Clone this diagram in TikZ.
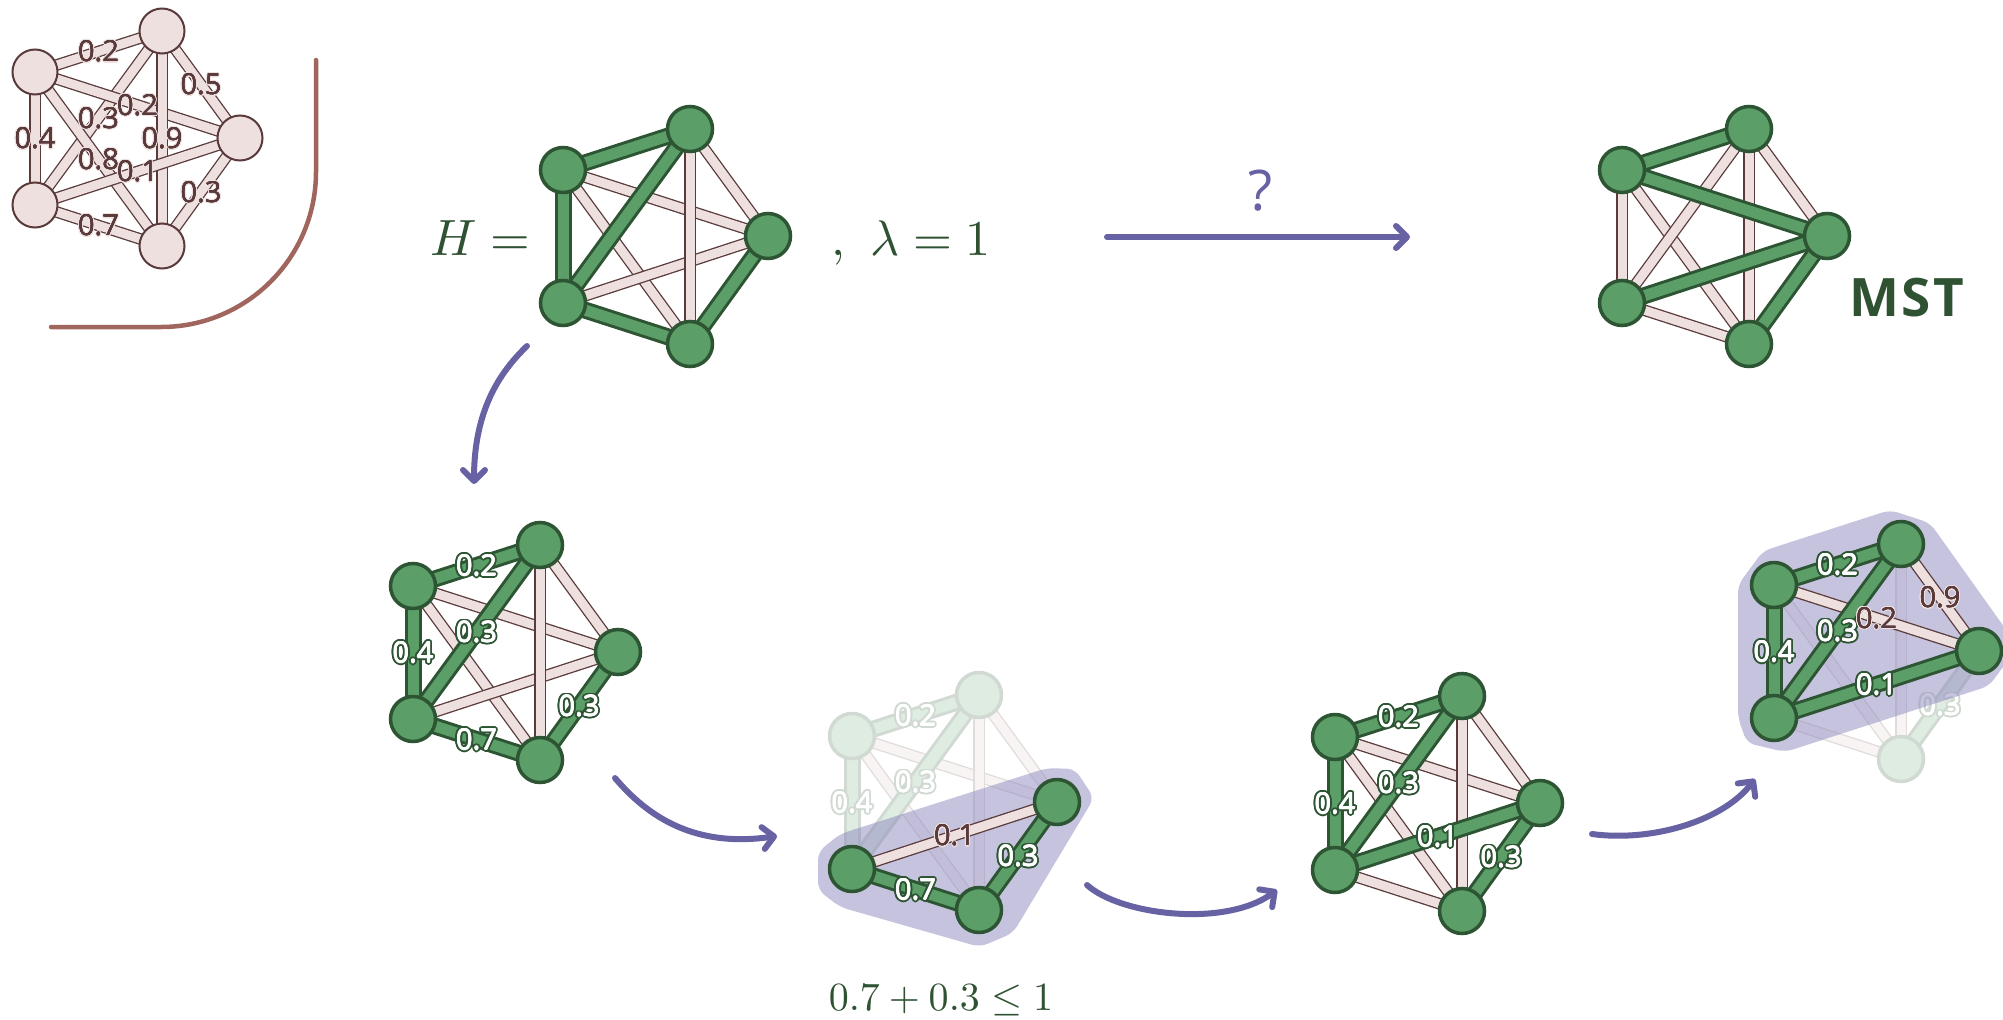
\documentclass[tikz,border=0pt]{standalone}
\usepackage{fontspec}
\setsansfont{Open Sans}
\usetikzlibrary{arrows.meta,calc}

\definecolor{ggreen}{HTML}{5C9E68}
\definecolor{gdark}{HTML}{2D5533}
\definecolor{epink}{HTML}{EDE0DF}
\definecolor{ebrown}{HTML}{5A3A3A}
\definecolor{apurple}{HTML}{6762A3}
\definecolor{hullc}{HTML}{8C88BE}
\definecolor{cornerc}{HTML}{A0665E}
\definecolor{textg}{HTML}{2F5233}
\colorlet{fgreen}{ggreen!20!white}
\colorlet{fgdark}{gdark!22!white}
\colorlet{fpink}{epink!35!white}
\colorlet{fbrown}{ebrown!18!white}

\pgfdeclarelayer{canvas}
\pgfdeclarelayer{fadeedges}
\pgfdeclarelayer{fadenodes}
\pgfdeclarelayer{fadelabels}
\pgfdeclarelayer{hull}
\pgfdeclarelayer{edges}
\pgfdeclarelayer{labels}
\pgfsetlayers{canvas,fadeedges,fadenodes,fadelabels,hull,edges,main,labels}

\tikzset{
  pnode/.style={circle, inner sep=0pt, minimum size=45pt, fill=epink, draw=ebrown, line width=2pt},
  gnode/.style={circle, inner sep=0pt, minimum size=45pt, fill=ggreen, draw=gdark, line width=3.5pt},
  fnode/.style={circle, inner sep=0pt, minimum size=45pt, fill=fgreen, draw=fgdark, line width=3.5pt},
  pedge/.style={draw=ebrown, line width=1.3pt, double=epink, double distance=9pt},
  gedge/.style={draw=gdark, line width=3pt, double=ggreen, double distance=11pt},
  fpedge/.style={draw=fbrown, line width=1.3pt, double=fpink, double distance=9pt},
  fgedge/.style={draw=fgdark, line width=3pt, double=fgreen, double distance=11pt},
  lab/.style={font=\sffamily\fontsize{29}{29}\selectfont, inner sep=0pt},
  flow/.style={draw=apurple, line width=6pt, line cap=round,
    -{Straight Barb[length=11pt,width=22pt,round]}},
  hullshape/.style={fill=hullc, fill opacity=0.5, rounded corners=8pt},
  eqtext/.style={text=textg, inner sep=0pt},
}

% text with a coloured rim: #1 rim colour, #2 text colour,
% #3 rim radius (pt), #4 emboldening radius (pt), #5 text
\newcommand\rimtext[5]{%
  \begingroup
  \sbox0{#5}%
  \makebox[\wd0][l]{%
    \foreach \a in {0,22.5,...,337.5}{%
      \pgfmathsetmacro\rx{#3*cos(\a)}\pgfmathsetmacro\ry{#3*sin(\a)}%
      \makebox[0pt][l]{\hspace*{\rx pt}\raisebox{\ry pt}[0pt][0pt]{\color{#1}#5}}}%
    \foreach \a in {0,90,180,270}{%
      \pgfmathsetmacro\rx{#4*cos(\a)}\pgfmathsetmacro\ry{#4*sin(\a)}%
      \makebox[0pt][l]{\hspace*{\rx pt}\raisebox{\ry pt}[0pt][0pt]{\color{#2}#5}}}%
    \makebox[0pt][l]{\color{#2}#5}%
  }%
  \endgroup}

% label on a highlighted edge: #1,#2 end nodes, #3 text, #4 rim colour
\newcommand\elab[4]{%
  \node[lab] (#1-#2) at ($(#1)!.5!(#2)$) {\rimtext{#4}{white}{2.3}{0.4}{#3}};
}
% label on a plain edge: brown figures with a thin light halo
\newcommand\plab[3]{%
  \node[lab] (#1-#2) at ($(#1)!.5!(#2)$) {\rimtext{epink}{ebrown}{1.2}{0}{#3}};
}

% five vertices of a graph, placed relative to the current shift
\newcommand\vertices[6]{%
  \node[#2] (#1A) at (0,0) {};
  \node[#3] (#1B) at (127,-41) {};
  \node[#4] (#1C) at (205,66) {};
  \node[#5] (#1D) at (0,133) {};
  \node[#6] (#1E) at (127,174) {};
}

\begin{document}
\begin{tikzpicture}[x=1pt,y=-1pt]
\useasboundingbox (0,0) rectangle (2003,1020);
\begin{pgfonlayer}{canvas}
  \fill[white] (0,0) rectangle (2003,1020);
\end{pgfonlayer}

% ---------- weighted input graph ----------
\begin{scope}[shift={(35,72)}]
  \vertices{p}{pnode}{pnode}{pnode}{pnode}{pnode}
\end{scope}
\begin{pgfonlayer}{edges}
  \foreach \u/\v in {pA/pB,pB/pC,pA/pD,pD/pB,pA/pC,pB/pE,pA/pE,pD/pC,pC/pE,pD/pE}
    \draw[pedge] (\u.center) -- (\v.center);
\end{pgfonlayer}
\begin{pgfonlayer}{labels}
  \plab{pA}{pB}{0.2}
  \plab{pB}{pC}{0.5}
  \plab{pA}{pD}{0.4}
  \plab{pD}{pB}{0.3}
  \plab{pA}{pC}{0.2}
  \plab{pB}{pE}{0.9}
  \plab{pA}{pE}{0.8}
  \plab{pD}{pC}{0.1}
  \plab{pC}{pE}{0.3}
  \plab{pD}{pE}{0.7}
\end{pgfonlayer}
\coordinate (k1) at (316,60);
\coordinate (k2) at (316,327);
\coordinate (k3) at (51,327);
\draw[cornerc, line width=4.5pt, line cap=round, rounded corners=155pt] (k1) -- (k2) -- (k3);

% ---------- H ----------
\begin{scope}[shift={(563,170)}]
  \vertices{h}{gnode}{gnode}{gnode}{gnode}{gnode}
\end{scope}
\begin{pgfonlayer}{edges}
  \foreach \u/\v in {hA/hC,hA/hE,hD/hC,hB/hE,hB/hC}
    \draw[pedge] (\u.center) -- (\v.center);
  \foreach \u/\v in {hA/hB,hA/hD,hD/hB,hD/hE,hC/hE}
    \draw[gedge] (\u.center) -- (\v.center);
\end{pgfonlayer}
\node[eqtext, anchor=base west] (hname) at (430,255) {\scalebox{5.1}{$H =$}};
\node[eqtext, anchor=base west] (lam) at (831,255) {\scalebox{5}{$,\ \lambda = 1$}};

% ---------- question arrow ----------
\coordinate (qs) at (1107,237);
\coordinate (qe) at (1410,237);
\draw[flow] (qs) -- (qe);
\node[text=apurple, font=\sffamily\fontsize{56}{56}\selectfont, inner sep=0pt] (qmark) at (1261,191) {?};

% ---------- MST ----------
\begin{scope}[shift={(1622,170)}]
  \vertices{m}{gnode}{gnode}{gnode}{gnode}{gnode}
\end{scope}
\begin{pgfonlayer}{edges}
  \foreach \u/\v in {mA/mD,mA/mE,mD/mB,mB/mE,mB/mC,mD/mE}
    \draw[pedge] (\u.center) -- (\v.center);
  \foreach \u/\v in {mA/mB,mA/mC,mD/mC,mC/mE}
    \draw[gedge] (\u.center) -- (\v.center);
\end{pgfonlayer}
\node[text=textg, font=\sffamily\bfseries\fontsize{53}{53}\selectfont\addfontfeature{LetterSpace=5}, inner sep=0pt, anchor=base west] (mst) at (1849,316) {MST};

% ---------- step 1 ----------
\begin{scope}[shift={(413,586)}]
  \vertices{a}{gnode}{gnode}{gnode}{gnode}{gnode}
\end{scope}
\begin{pgfonlayer}{edges}
  \foreach \u/\v in {aA/aC,aA/aE,aD/aC,aB/aE,aB/aC}
    \draw[pedge] (\u.center) -- (\v.center);
  \foreach \u/\v in {aA/aB,aA/aD,aD/aB,aD/aE,aC/aE}
    \draw[gedge] (\u.center) -- (\v.center);
\end{pgfonlayer}
\begin{pgfonlayer}{labels}
  \elab{aA}{aB}{0.2}{gdark}
  \elab{aA}{aD}{0.4}{gdark}
  \elab{aD}{aB}{0.3}{gdark}
  \elab{aD}{aE}{0.7}{gdark}
  \elab{aC}{aE}{0.3}{gdark}
\end{pgfonlayer}

% ---------- step 2 ----------
\begin{scope}[shift={(852,736)}]
  \begin{pgfonlayer}{fadenodes}
    \node[fnode] (bA) at (0,0) {};
    \node[fnode] (bB) at (127,-41) {};
  \end{pgfonlayer}
  \node[gnode] (bC) at (205,66) {};
  \node[gnode] (bD) at (0,133) {};
  \node[gnode] (bE) at (127,174) {};
\end{scope}
\begin{pgfonlayer}{fadeedges}
  \foreach \u/\v in {bA/bC,bA/bE,bB/bE,bB/bC}
    \draw[fpedge] (\u.center) -- (\v.center);
  \foreach \u/\v in {bA/bB,bA/bD,bD/bB}
    \draw[fgedge] (\u.center) -- (\v.center);
\end{pgfonlayer}
\begin{pgfonlayer}{fadelabels}
  \elab{bA}{bB}{0.2}{fgdark}
  \elab{bA}{bD}{0.4}{fgdark}
  \elab{bD}{bB}{0.3}{fgdark}
\end{pgfonlayer}
\begin{pgfonlayer}{hull}
  \fill[hullshape] (818,852) -- (840,834) -- (1047,768) -- (1075,769) -- (1094,798)
    -- (1013,933) -- (980,947) -- (840,907) -- (818,890) -- cycle;
\end{pgfonlayer}
\begin{pgfonlayer}{edges}
  \draw[pedge] (bD.center) -- (bC.center);
  \foreach \u/\v in {bD/bE,bC/bE}
    \draw[gedge] (\u.center) -- (\v.center);
\end{pgfonlayer}
\begin{pgfonlayer}{labels}
  \plab{bD}{bC}{0.1}
  \elab{bD}{bE}{0.7}{gdark}
  \elab{bC}{bE}{0.3}{gdark}
\end{pgfonlayer}
\node[eqtext, anchor=base] (ineq) at (941,1010) {\scalebox{4}{$0.7 + 0.3 \leq 1$}};

% ---------- step 3 ----------
\begin{scope}[shift={(1335,737)}]
  \vertices{c}{gnode}{gnode}{gnode}{gnode}{gnode}
\end{scope}
\begin{pgfonlayer}{edges}
  \foreach \u/\v in {cA/cC,cA/cE,cB/cE,cB/cC,cD/cE}
    \draw[pedge] (\u.center) -- (\v.center);
  \foreach \u/\v in {cA/cB,cA/cD,cD/cB,cD/cC,cC/cE}
    \draw[gedge] (\u.center) -- (\v.center);
\end{pgfonlayer}
\begin{pgfonlayer}{labels}
  \elab{cA}{cB}{0.2}{gdark}
  \elab{cA}{cD}{0.4}{gdark}
  \elab{cD}{cB}{0.3}{gdark}
  \elab{cD}{cC}{0.1}{gdark}
  \elab{cC}{cE}{0.3}{gdark}
\end{pgfonlayer}

% ---------- step 4 ----------
\begin{scope}[shift={(1774,585)}]
  \node[gnode] (dA) at (0,0) {};
  \node[gnode] (dB) at (127,-41) {};
  \node[gnode] (dC) at (205,66) {};
  \node[gnode] (dD) at (0,133) {};
  \begin{pgfonlayer}{fadenodes}
    \node[fnode] (dE) at (127,174) {};
  \end{pgfonlayer}
\end{scope}
\begin{pgfonlayer}{fadeedges}
  \foreach \u/\v in {dA/dE,dB/dE,dD/dE}
    \draw[fpedge] (\u.center) -- (\v.center);
  \draw[fgedge] (dC.center) -- (dE.center);
\end{pgfonlayer}
\begin{pgfonlayer}{fadelabels}
  \elab{dC}{dE}{0.3}{fgdark}
\end{pgfonlayer}
\begin{pgfonlayer}{hull}
  \fill[hullshape] (1738,718) -- (1738,585) -- (1763,551) -- (1890,510) -- (1930,523)
    -- (2007,631) -- (2014,652) -- (1989,686) -- (1785,752) -- (1747,743) -- cycle;
\end{pgfonlayer}
\begin{pgfonlayer}{edges}
  \foreach \u/\v in {dA/dC,dB/dC}
    \draw[pedge] (\u.center) -- (\v.center);
  \foreach \u/\v in {dA/dB,dA/dD,dD/dB,dD/dC}
    \draw[gedge] (\u.center) -- (\v.center);
\end{pgfonlayer}
\begin{pgfonlayer}{labels}
  \elab{dA}{dB}{0.2}{gdark}
  \elab{dA}{dD}{0.4}{gdark}
  \elab{dD}{dB}{0.3}{gdark}
  \elab{dD}{dC}{0.1}{gdark}
  \plab{dA}{dC}{0.2}
  \plab{dB}{dC}{0.9}
\end{pgfonlayer}

% ---------- process arrows ----------
\coordinate (s1) at (527,346);
\coordinate (e1) at (474,484);
\draw[flow] (s1) .. controls (500,372) and (474,410) .. (e1);
\coordinate (s2) at (615,778);
\coordinate (e2) at (777,836);
\draw[flow] (s2) .. controls (648,817) and (695,848) .. (e2);
\coordinate (s3) at (1087,885);
\coordinate (e3) at (1277,890);
\draw[flow] (s3) .. controls (1120,915) and (1225,928) .. (e3);
\coordinate (s4) at (1592,834);
\coordinate (e4) at (1755,779);
\draw[flow] (s4) .. controls (1650,842) and (1722,822) .. (e4);
\end{tikzpicture}
\end{document}
